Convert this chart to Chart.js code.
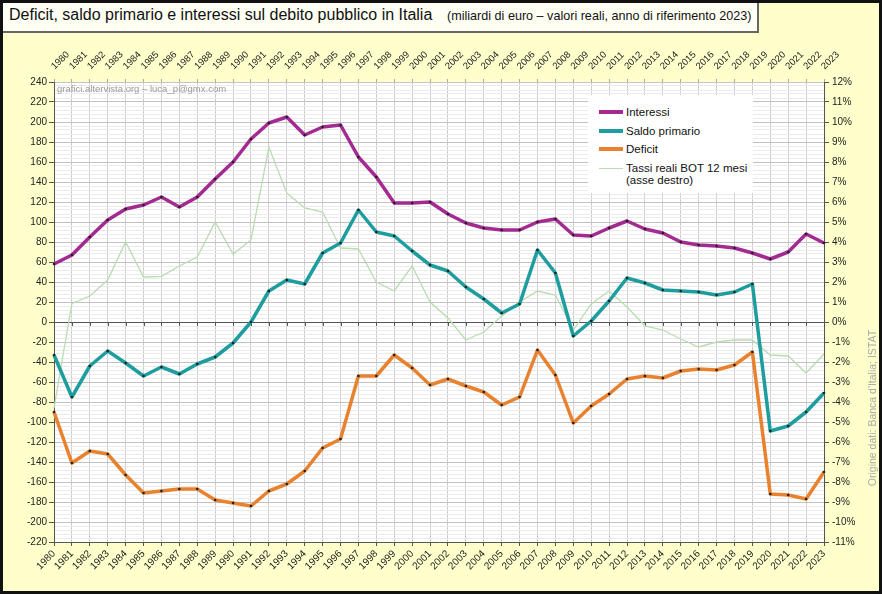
<!DOCTYPE html>
<html>
<head>
<meta charset="utf-8">
<script src="https://cdn.jsdelivr.net/npm/chart.js@4.4.1/dist/chart.umd.min.js"></script>
<style>
  html, body { margin: 0; padding: 0; }
  #wrap { position: relative; width: 882px; height: 594px; background: #ffffcc; overflow: hidden; font-family: 'Liberation Sans', Arial, sans-serif; }
  #c { position: absolute; left: 0; top: 0; }
  #title { position: absolute; left: 0; top: 0; width: 757px; height: 31px; background: #fffff4;
    border-right: 2px solid #666; border-bottom: 2px solid #666; white-space: nowrap; }
  #title .main { position: absolute; left: 9px; top: 6px; font-size: 16px; color: #111; }
  #title .sub { position: absolute; left: 447px; top: 9px; font-size: 12.6px; color: #111; }
  #legend { position: absolute; left: 588px; top: 95px; width: 165px; height: 98px; background: #fff; font-size: 11.5px; color: #111; }
  #legend .row { position: absolute; left: 0; height: 14px; }
  #legend .sw { position: absolute; left: 11px; width: 24px; }
  #legend .tx { position: absolute; left: 38px; white-space: nowrap; line-height: 12px; }
  #wm { position: absolute; left: 57px; top: 83px; font-size: 9.5px; color: #999; white-space: nowrap; }
  #src { position: absolute; left: 872px; top: 408px; transform: translate(-50%, -50%) rotate(-90deg); font-size: 10.5px; color: #aaa; white-space: nowrap; }
  #frame { position: absolute; left: 0; top: 0; width: 876px; height: 588px; border: 3px solid #111; pointer-events: none; }
</style>
</head>
<body>
<div id="wrap">
  <canvas id="c" width="882" height="594"></canvas>
  <div id="title"><span class="main">Deficit, saldo primario e interessi sul debito pubblico in Italia</span><span class="sub">(miliardi di euro – valori reali, anno di riferimento 2023)</span></div>
  <div id="wm">grafici.altervista.org – luca_p@gmx.com</div>
  <div id="legend"></div>
  <div id="src">Origine dati: Banca d'Italia; ISTAT</div>
  <div id="frame"></div>
</div>
<script>
// categorie
const years = ['1980','1981','1982','1983','1984','1985','1986','1987','1988','1989','1990','1991',
  '1992','1993','1994','1995','1996','1997','1998','1999','2000','2001','2002','2003',
  '2004','2005','2006','2007','2008','2009','2010','2011','2012','2013','2014','2015',
  '2016','2017','2018','2019','2020','2021','2022','2023'];

// miliardi di euro, valori reali 2023
const interessi = [58, 67, 85, 102, 113, 117, 125, 115, 125, 143, 160, 183,
  199, 205, 187, 195, 197, 165, 145, 119, 119, 120, 108, 99,
  94, 92, 92, 100, 103, 87, 86, 94, 101, 93, 89, 80,
  77, 76, 74, 69, 63, 70, 88, 79];
const saldoPrimario = [-33, -75, -44, -29, -41, -54, -45, -52, -42, -35, -21, 0,
  31, 42, 38, 69, 79, 112, 90, 86, 71, 57, 51, 35,
  23, 9, 18, 72, 49, -14, 1, 21, 44, 39, 32, 31,
  30, 27, 30, 38, -109, -104, -90, -71];
const deficit = [-90, -141, -129, -132, -153, -171, -169, -167, -167, -178, -181, -184,
  -169, -162, -149, -126, -117, -54, -54, -33, -46, -63, -57, -64,
  -70, -83, -75, -28, -53, -101, -84, -72, -57, -54, -56, -49,
  -47, -48, -43, -30, -172, -173, -177, -150];
// percentuale, asse destro
const tassiBot = [-4.3, 0.93, 1.3, 2.1, 4.0, 2.25, 2.28, 2.8, 3.25, 5.0, 3.4, 4.1,
  8.75, 6.45, 5.7, 5.5, 3.7, 3.65, 2.0, 1.55, 2.8, 1.0, 0.2, -0.9,
  -0.5, 0.3, 1.0, 1.55, 1.35, -0.4, 0.9, 1.55, 0.75, -0.2, -0.4, -0.85,
  -1.25, -1.0, -0.9, -0.9, -1.65, -1.7, -2.55, -1.6];

const colors = {
  interessi: '#a32a90',
  saldo: '#1e9d9f',
  deficit: '#e8822f',
  tassi: '#b9dcb2',
  dot: '#222'
};

const series = [
  { label: 'Interessi', data: interessi, color: colors.interessi, width: 3.5 },
  { label: 'Saldo primario', data: saldoPrimario, color: colors.saldo, width: 3.5 },
  { label: 'Deficit', data: deficit, color: colors.deficit, width: 3.5 }
];

// legenda html
const legendItems = [
  { text: 'Interessi', color: colors.interessi, w: 4 },
  { text: 'Saldo primario', color: colors.saldo, w: 4 },
  { text: 'Deficit', color: colors.deficit, w: 4 },
  { text: 'Tassi reali BOT 12 mesi<br>(asse destro)', color: colors.tassi, w: 1 }
];
const legend = document.getElementById('legend');
legendItems.forEach((it, i) => {
  const top = 11 + i * 18.7;
  legend.insertAdjacentHTML('beforeend',
    `<div class="row" style="top:${top}px">` +
    `<div class="sw" style="top:${6 - it.w / 2}px;height:${it.w}px;background:${it.color}"></div>` +
    `<div class="tx" style="top:0">${it.text}</div></div>`);
});

// sfondo bianco dell'area, trattini sulla linea dello zero, anni in alto
const plotDecor = {
  id: 'plotDecor',
  beforeDraw(chart) {
    const { ctx, chartArea: a } = chart;
    ctx.save();
    ctx.fillStyle = '#ffffff';
    ctx.fillRect(a.left, a.top, a.right - a.left, a.bottom - a.top);
    ctx.restore();
  },
  beforeDatasetsDraw(chart) {
    const { ctx } = chart;
    const xs = chart.scales.x;
    const y0 = chart.scales.y.getPixelForValue(0);
    ctx.save();
    ctx.strokeStyle = '#555';
    ctx.lineWidth = 1;
    ctx.beginPath();
    years.forEach((_, i) => {
      const px = Math.round(xs.getPixelForValue(i)) + 0.5;
      ctx.moveTo(px, y0);
      ctx.lineTo(px, y0 + 4);
    });
    ctx.stroke();
    ctx.restore();
  },
  afterDraw(chart) {
    const { ctx, chartArea: a } = chart;
    const xs = chart.scales.x;
    ctx.save();
    ctx.fillStyle = '#222';
    ctx.font = "9.5px 'Liberation Sans', Arial, sans-serif";
    ctx.textAlign = 'left';
    ctx.textBaseline = 'middle';
    years.forEach((yr, i) => {
      const px = xs.getPixelForValue(i);
      ctx.save();
      ctx.translate(px - 1, a.top - 14);
      ctx.rotate(-Math.PI / 4);
      ctx.fillText(yr, 0, 0);
      ctx.restore();
    });
    ctx.restore();
  }
};

Chart.defaults.font.family = "'Liberation Sans', Arial, sans-serif";
Chart.defaults.color = '#333';

const datasets = series.map((s, i) => ({
  label: s.label,
  data: s.data,
  borderColor: s.color,
  backgroundColor: s.color,
  borderWidth: s.width,
  borderJoinStyle: 'round',
  pointRadius: 1.3,
  pointBorderWidth: 0,
  pointBackgroundColor: colors.dot,
  tension: 0,
  yAxisID: 'y',
  order: i + 1
}));
datasets.push({
  label: 'Tassi reali BOT 12 mesi (asse destro)',
  data: tassiBot,
  borderColor: colors.tassi,
  backgroundColor: colors.tassi,
  borderWidth: 1.3,
  pointRadius: 0,
  tension: 0,
  yAxisID: 'y1',
  order: 10
});

new Chart(document.getElementById('c'), {
  type: 'line',
  data: { labels: years, datasets },
  plugins: [plotDecor],
  options: {
    responsive: false,
    animation: false,
    layout: { padding: 0 },
    plugins: { legend: { display: false }, tooltip: { enabled: false } },
    scales: {
      x: {
        position: 'bottom',
        offset: false,
        afterFit(scale) { scale.height = 52; },
        grid: { color: '#cdcdcd', tickLength: 4, tickColor: '#555' },
        border: { color: '#555' },
        ticks: { autoSkip: false, minRotation: 45, maxRotation: 45, padding: 2, font: { size: 10 }, color: '#222' }
      },
      x2: {
        type: 'category',
        labels: years,
        position: 'top',
        offset: false,
        afterFit(scale) { scale.height = 82; },
        grid: { drawOnChartArea: false, tickLength: 3, tickColor: '#aaa' },
        border: { color: '#c4c4c4' },
        ticks: { display: false }
      },
      y: {
        position: 'left',
        min: -220,
        max: 240,
        afterFit(scale) { scale.width = 54; },
        border: { color: '#555' },
        grid: {
          tickLength: 5,
          color: ctx => {
            const v = ctx.tick.value;
            if (v === 0) return '#555';
            return v % 20 === 0 ? '#c2c2c2' : '#ebebeb';
          },
          tickColor: ctx => (ctx.tick.value % 20 === 0 ? '#555' : 'rgba(0,0,0,0)')
        },
        ticks: {
          stepSize: 4,
          autoSkip: false,
          padding: 2,
          font: { size: 10 },
          color: '#222',
          callback: v => (v % 20 === 0 ? String(v) : '')
        }
      },
      y1: {
        position: 'right',
        min: -11,
        max: 12,
        afterFit(scale) { scale.width = 58; },
        border: { color: '#555' },
        grid: { drawOnChartArea: false, tickLength: 5, tickColor: '#555' },
        ticks: {
          stepSize: 1,
          autoSkip: false,
          padding: 3,
          font: { size: 10 },
          color: '#222',
          callback: v => v + '%'
        }
      }
    }
  }
});
</script>
</body>
</html>
